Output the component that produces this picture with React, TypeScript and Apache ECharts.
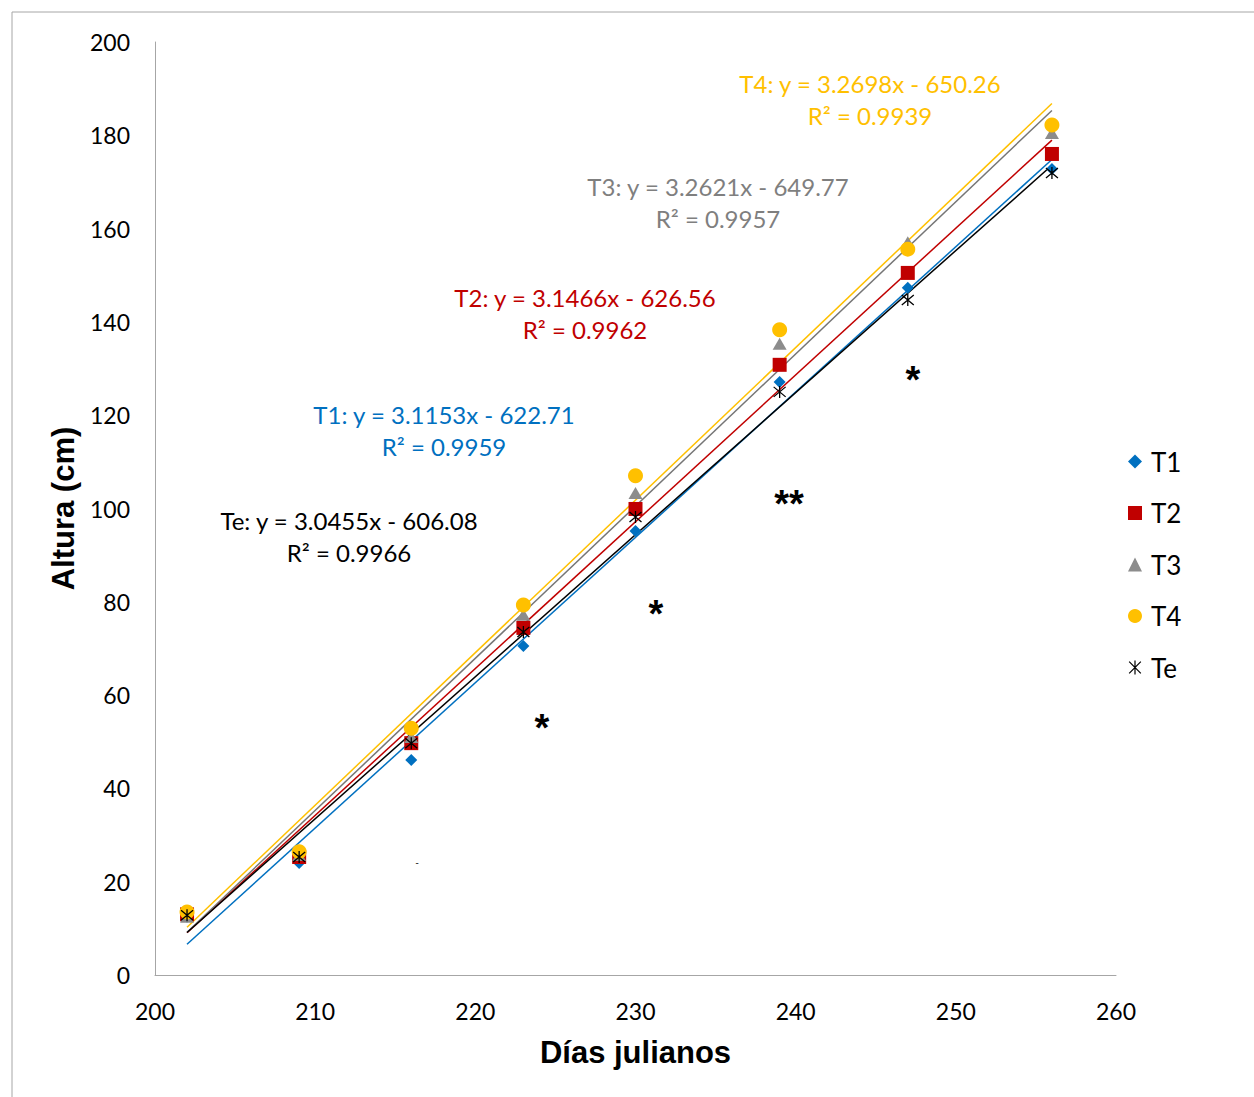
import React, { useEffect, useRef } from "react";
import * as echarts from "echarts";

const days = [202, 209, 216, 223, 230, 239, 247, 256];
const t1 = [12.5, 24.0, 46.1, 70.5, 95.2, 127.1, 147.3, 172.8];
const t2 = [13.0, 25.3, 49.7, 74.4, 99.9, 130.8, 150.5, 176.0];
const t3 = [12.5, 25.7, 51.0, 77.2, 103.3, 135.3, 157.1, 180.5];
const t4 = [13.5, 26.4, 52.9, 79.3, 107.0, 138.3, 155.6, 182.2];
const te = [12.8, 25.3, 49.7, 73.5, 98.2, 125.0, 144.7, 171.9];

const names = ["T1", "T2", "T3", "T4", "Te"];
const slopes = [3.1153, 3.1466, 3.2621, 3.2698, 3.0455];
const intercepts = [-622.71, -626.56, -649.77, -650.26, -606.08];
const r2 = ["0.9959", "0.9962", "0.9957", "0.9939", "0.9966"];
const xTicks = [200, 210, 220, 230, 240, 250, 260];
const yTicks = [0, 20, 40, 60, 80, 100, 120, 140, 160, 180, 200];

const markerColors = ["#0070C0", "#C00000", "#8C8C8C", "#FFC000", "#000000"];
const lineColors = ["#0070C0", "#C00000", "#767676", "#FFC000", "#000000"];
const textColors = ["#0070C0", "#C00000", "#7F7F7F", "#FFC000", "#000000"];
const symbols = [
  "diamond",
  "rect",
  "triangle",
  "circle",
  "path://M0,0L10,10M10,0L0,10M5,-1L5,11",
];
const sizes = [12, 14, [14, 12], 15, 12];
const eqPos = [
  [444, 414],
  [585, 297],
  [718, 186],
  [870, 83],
  [349, 520],
];
const stars = [
  ["*", 542, 728],
  ["*", 656, 614],
  ["**", 789, 504],
  ["*", 913, 380],
];

const seriesValues = [t1, t2, t3, t4, te];

export default function App() {
  const ref = useRef<HTMLDivElement>(null);
  useEffect(() => {
    if (!ref.current) return;
    const chart = echarts.init(ref.current, undefined, { renderer: "svg" });
    const font = "Lato, 'Open Sans', sans-serif";
    const lineSeries = names.map((n, i) => ({
      name: n + " trend",
      type: "line",
      data: [
        [days[0], slopes[i] * days[0] + intercepts[i]],
        [days[days.length - 1], slopes[i] * days[days.length - 1] + intercepts[i]],
      ],
      showSymbol: false,
      symbol: "none",
      lineStyle: { color: lineColors[i], width: 1.5 },
      z: 1,
      silent: true,
    }));
    const scatterSeries = names.map((n, i) => ({
      name: n,
      type: "scatter",
      data: days.map((d, j) => [d, seriesValues[i][j]]),
      symbol: symbols[i],
      symbolSize: sizes[i],
      itemStyle:
        i === 4
          ? { color: "transparent", borderColor: "#000", borderWidth: 1.3, opacity: 1 }
          : { color: markerColors[i], opacity: 1 },
      z: 3 + i,
    }));
    const graphics: any[] = [
      {
        type: "rect",
        shape: { x: 12, y: 12, width: 1270, height: 1110 },
        style: { fill: "none", stroke: "#A6A6A6", lineWidth: 1 },
        silent: true,
      },
    ];
    names.forEach((n, i) => {
      const sign = intercepts[i] < 0 ? "-" : "+";
      graphics.push({
        type: "text",
        x: eqPos[i][0],
        y: eqPos[i][1],
        style: {
          text: `${n}: y = ${slopes[i].toFixed(4)}x ${sign} ${Math.abs(intercepts[i]).toFixed(2)}`,
          fill: textColors[i],
          font: `24px ${font}`,
          textAlign: "center",
          textVerticalAlign: "middle",
        },
      });
      graphics.push({
        type: "text",
        x: eqPos[i][0],
        y: eqPos[i][1] + 32,
        style: {
          text: `R² = ${r2[i]}`,
          fill: textColors[i],
          font: `24px ${font}`,
          textAlign: "center",
          textVerticalAlign: "middle",
        },
      });
    });
    stars.forEach((s) => {
      graphics.push({
        type: "text",
        x: s[1],
        y: s[2],
        style: {
          text: s[0],
          fill: "#000",
          font: `bold 38px 'Liberation Sans', Arial, sans-serif`,
          textAlign: "center",
          textVerticalAlign: "middle",
        },
      });
    });
    graphics.push({
      type: "text",
      x: 417,
      y: 862,
      style: {
        text: "-",
        fill: "#000",
        font: `10px ${font}`,
        textAlign: "center",
        textVerticalAlign: "middle",
      },
    });

    chart.setOption({
      animation: false,
      backgroundColor: "#fff",
      grid: { left: 155, right: 138, top: 42, bottom: 122 },
      xAxis: {
        type: "value",
        min: xTicks[0],
        max: xTicks[xTicks.length - 1],
        interval: 10,
        name: "Días julianos",
        nameLocation: "middle",
        nameGap: 62,
        nameTextStyle: {
          fontFamily: "'Liberation Sans', Arial, sans-serif",
          fontWeight: "bold",
          fontSize: 31,
          color: "#000",
        },
        axisLine: { show: true, lineStyle: { color: "#A6A6A6", width: 1 } },
        axisTick: { show: false },
        splitLine: { show: false },
        axisLabel: { fontFamily: font, fontSize: 23, color: "#000", margin: 24 },
      },
      yAxis: {
        type: "value",
        min: yTicks[0],
        max: yTicks[yTicks.length - 1],
        interval: 20,
        name: "Altura (cm)",
        nameLocation: "middle",
        nameGap: 76,
        nameRotate: 90,
        nameTextStyle: {
          fontFamily: "'Liberation Sans', Arial, sans-serif",
          fontWeight: "bold",
          fontSize: 31,
          color: "#000",
        },
        axisLine: { show: true, lineStyle: { color: "#A6A6A6", width: 1 } },
        axisTick: { show: false },
        splitLine: { show: false },
        axisLabel: { fontFamily: font, fontSize: 23, color: "#000", margin: 25 },
      },
      legend: {
        data: names.map((n, i) => ({
          name: n,
          itemStyle: i === 4 ? { color: "transparent", borderColor: "#000", borderWidth: 1.2 } : undefined,
        })),
        orient: "vertical",
        left: 1123,
        top: 443,
        itemGap: 24.5,
        itemWidth: 14,
        itemHeight: 14,
        textStyle: { fontFamily: font, fontSize: 26, color: "#000", padding: [0, 0, 0, 4], lineHeight: 27 },
      },
      graphic: graphics,
      series: [...lineSeries, ...scatterSeries],
    });
    return () => chart.dispose();
  }, []);
  return (
    <div
      ref={ref}
      style={{ position: "fixed", left: 0, top: 0, width: 1254, height: 1097 }}
    />
  );
}
